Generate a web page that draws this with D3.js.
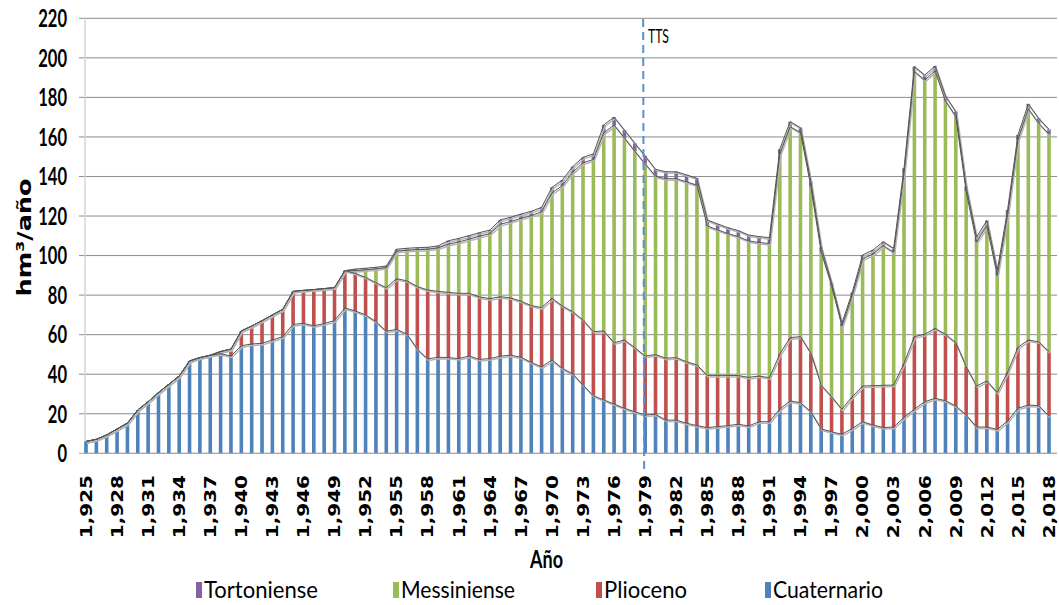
<!DOCTYPE html>
<html>
<head>
<meta charset="utf-8">
<script src="https://cdn.jsdelivr.net/npm/d3@7"></script>
<style>
  body { margin: 0; background: #fff; }
  svg { display: block; }
</style>
</head>
<body>
<div class="chart"></div>
<script>
// categories: one per year, 1925..2018
var years = d3.range(1925, 2019);

// series values (hm3/año), bottom to top of the stack
var cuaternario = [6.0,7.1,9.3,12.3,15.3,21.9,26.1,30.7,34.9,39.1,
  46.7,48.4,49.6,50.4,49.2,54.4,55.3,55.6,57.3,59.0,
  65.2,65.7,64.5,65.6,67.1,73.5,72.0,70.0,66.6,61.7,
  62.7,60.2,52.6,47.7,48.6,48.4,47.9,49.2,47.5,47.9,
  49.1,49.6,48.6,46.0,43.7,47.2,43.0,40.1,34.5,29.1,
  27.0,24.9,22.8,21.0,19.4,19.7,16.8,16.8,15.2,14.0,
  13.0,13.5,14.0,14.7,13.8,16.0,16.0,22.3,26.5,25.6,
  21.0,12.3,10.9,9.6,12.6,16.0,14.3,13.0,13.3,18.2,
  22.3,26.1,27.8,26.6,23.9,19.4,13.3,13.3,12.1,16.3,
  22.8,24.4,24.1,18.9];

var plioceno = [0,0,0,0,0,0,0,0,0,0,
  0,0,0,1.1,3.5,7.5,9.1,11.5,12.7,13.8,
  16.7,16.7,18.3,17.7,16.7,18.9,19.0,19.0,19.7,22.1,
  25.6,27.0,31.7,34.9,33.3,33.0,33.0,31.7,31.6,30.3,
  30.1,29.0,28.3,28.7,30.0,31.2,31.5,31.5,32.9,32.4,
  34.9,31.0,34.5,32.4,29.8,30.2,31.3,31.6,31.1,30.7,
  26.4,25.9,25.4,24.6,24.6,23.1,22.2,27.9,32.0,33.4,
  29.6,22.2,17.7,12.7,16.0,18.0,19.9,21.4,21.2,27.3,
  36.7,34.1,35.4,33.6,32.0,24.4,20.7,23.3,18.6,24.7,
  30.8,32.9,32.3,32.5];

var messiniense = [0,0,0,0,0,0,0,0,0,0,
  0,0,0,0,0,0,0,0,0,0,
  0,0,0,0,0,0,1.4,3.8,7.0,10.1,
  13.9,15.5,18.7,20.6,22.0,24.3,26.0,27.4,30.7,32.9,
  36.6,38.6,41.9,45.5,48.5,53.3,60.9,70.6,79.5,87.1,
  100.2,110.1,102.2,99.4,97.2,90.2,90.8,90.5,91.0,90.9,
  75.6,73.6,71.7,70.3,69.0,67.5,67.9,101.1,106.7,103.2,
  84.3,67.2,56.2,42.0,51.3,64.3,66.6,70.6,67.2,96.2,
  134.1,128.6,130.2,118.0,114.4,88.6,72.8,78.6,59.2,79.6,
  104.9,116.9,110.5,110.0];

var tortoniense = [0,0,0,0,0,0,0,0,0,0,
  0,0,0,0,0,0,0,0,0,0,
  0,0,0,0,0,0,0.8,0.8,0.8,0.8,
  1.0,1.0,1.0,1.0,1.0,1.8,1.8,1.8,1.8,1.8,
  2.2,2.2,2.2,2.2,2.2,2.8,2.8,2.8,2.8,2.8,
  4.0,4.0,4.0,4.0,4.0,3.5,3.5,3.5,3.5,3.5,
  3.0,3.0,3.0,3.0,3.0,3.0,3.0,2.5,2.5,2.5,
  2.5,2.5,1.5,1.5,1.5,2.0,2.0,2.0,2.0,2.5,
  2.5,2.5,2.5,2.5,2.5,2.5,2.5,2.5,2.5,2.5,
  2.5,2.5,2.5,2.5];

var seriesNames = ["Cuaternario", "Plioceno", "Messiniense", "Tortoniense"];
var seriesColors = ["#4F81BD", "#C0504D", "#9BBB59", "#8064A2"];
var yTicks = [0,20,40,60,80,100,120,140,160,180,200,220];
var markerYear = 1979;
var markerLabel = "TTS";

var table = years.map(function(yr, i) {
  return {year: yr, Cuaternario: cuaternario[i], Plioceno: plioceno[i],
          Messiniense: messiniense[i], Tortoniense: tortoniense[i]};
});

var W = 1059, H = 605;

var svg = d3.select(".chart").append("svg")
    .attr("width", W)
    .attr("height", H);

var x = d3.scalePoint()
    .domain(years)
    .range([86, 1049]);

var y = d3.scaleLinear()
    .domain([0, 220])
    .range([453.3, 18.3]);

var stack = d3.stack().keys(seriesNames);
var layers = stack(table);

// gridlines + y tick marks
svg.append("g")
    .selectAll("line")
    .data(yTicks)
    .enter().append("line")
    .attr("x1", 79)
    .attr("x2", 1057)
    .attr("y1", function(d){ return y(d); })
    .attr("y2", function(d){ return y(d); })
    .attr("stroke", function(d){ return d == 0 ? "#a6a6a6" : "#8c8c8c"; })
    .attr("stroke-width", 1);

// y axis line
svg.append("line")
    .attr("x1", 85).attr("x2", 85)
    .attr("y1", y(220)).attr("y2", y(0))
    .attr("stroke", "#d4d4d4")
    .attr("stroke-width", 1.5);

// y tick labels
svg.append("g")
    .selectAll("text")
    .data(yTicks)
    .enter().append("text")
    .attr("x", 67)
    .attr("y", function(d){ return y(d); })
    .attr("dy", "0.35em")
    .attr("text-anchor", "end")
    .attr("textLength", function(d){ return String(d).length * 9.6; })
    .attr("lengthAdjust", "spacingAndGlyphs")
    .style("font-family", "Lato, 'Open Sans', sans-serif")
    .style("font-weight", "bold")
    .style("font-size", "25px")
    .style("fill", "#000")
    .text(function(d){ return d; });

// stacked bars
var barW = 3.6;
svg.append("g")
    .selectAll("g")
    .data(layers)
    .enter().append("g")
    .attr("fill", function(d, i){ return seriesColors[i]; })
    .selectAll("rect")
    .data(function(d){ return d; })
    .enter().append("rect")
    .attr("x", function(d){ return x(d.data.year) - barW / 2; })
    .attr("width", barW)
    .attr("y", function(d){ return y(d[1]); })
    .attr("height", function(d){ return Math.max(0, y(d[0]) - y(d[1])); });

// outline of each stacked level (with a soft shadow like the original)
var line = d3.line()
    .x(function(d){ return x(d.data.year); })
    .y(function(d){ return y(d[1]); });

svg.append("g")
    .attr("transform", "translate(1,1.5)")
    .selectAll("path")
    .data(layers)
    .enter().append("path")
    .attr("d", line)
    .attr("fill", "none")
    .attr("stroke", "#b5b5b5")
    .attr("stroke-width", 1.5);

svg.append("g")
    .selectAll("path")
    .data(layers)
    .enter().append("path")
    .attr("d", line)
    .attr("fill", "none")
    .attr("stroke", "#555")
    .attr("stroke-width", 1);

// x axis
svg.append("line")
    .attr("x1", 85).attr("x2", 1057)
    .attr("y1", y(0)).attr("y2", y(0))
    .attr("stroke", "#a6a6a6")
    .attr("stroke-width", 1);

var labelYears = years.filter(function(d){ return (d - 1925) % 3 == 0; });
var fmt = d3.format(",");

svg.append("g")
    .selectAll("text")
    .data(labelYears)
    .enter().append("text")
    .attr("transform", function(d){ return "translate(" + x(d) + ",475) rotate(-90) scale(1,0.8)"; })
    .attr("dy", "0.36em")
    .attr("text-anchor", "end")
    .style("font-family", "'DejaVu Sans', Verdana, sans-serif")
    .style("font-weight", "bold")
    .style("font-size", "20px")
    .style("fill", "#000")
    .text(function(d){ return fmt(d); });

// dashed TTS marker
svg.append("line")
    .attr("x1", x(markerYear) - 2).attr("x2", x(markerYear) - 1)
    .attr("y1", 19).attr("y2", 473)
    .attr("stroke", "#5B8FD0")
    .attr("stroke-width", 2)
    .attr("stroke-dasharray", "8,5");

svg.append("text")
    .attr("x", 648)
    .attr("y", 43)
    .attr("textLength", 21)
    .attr("lengthAdjust", "spacingAndGlyphs")
    .style("font-family", "Lato, sans-serif")
    .style("font-size", "19px")
    .style("fill", "#000")
    .text(markerLabel);

// axis titles
svg.append("text")
    .attr("transform", "translate(30.5,237.5) rotate(-90) scale(1,0.78)")
    .attr("text-anchor", "middle")
    .style("font-family", "'DejaVu Sans', Verdana, sans-serif")
    .style("font-weight", "bold")
    .style("font-size", "25.5px")
    .style("fill", "#000")
    .text("hm³/año");

svg.append("text")
    .attr("x", 530)
    .attr("y", 568)
    .attr("textLength", 33)
    .attr("lengthAdjust", "spacingAndGlyphs")
    .style("font-family", "Lato, sans-serif")
    .style("font-weight", "bold")
    .style("font-size", "24px")
    .style("fill", "#000")
    .text("Año");

// legend (top of stack first)
var legendNames = ["Tortoniense", "Messiniense", "Plioceno", "Cuaternario"];
var legendColors = ["#8064A2", "#9BBB59", "#C0504D", "#4F81BD"];
var legendX = [196, 393, 596, 765];
var legendW = [114, 114, 83, 110];

var legend = svg.append("g")
    .selectAll("g")
    .data(legendNames)
    .enter().append("g")
    .attr("transform", function(d, i){ return "translate(" + legendX[i] + ",0)"; });

legend.append("rect")
    .attr("x", 0)
    .attr("y", 582)
    .attr("width", 6)
    .attr("height", 16)
    .attr("fill", function(d, i){ return legendColors[i]; });

legend.append("text")
    .attr("x", 8)
    .attr("y", 598)
    .attr("textLength", function(d, i){ return legendW[i]; })
    .attr("lengthAdjust", "spacingAndGlyphs")
    .style("font-family", "Lato, sans-serif")
    .style("font-size", "24px")
    .style("fill", "#000")
    .text(function(d){ return d; });
</script>
</body>
</html>
